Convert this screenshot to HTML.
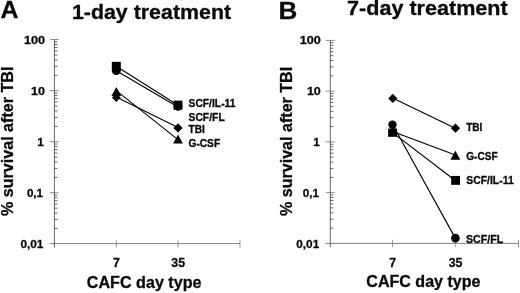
<!DOCTYPE html><html><head><meta charset="utf-8"><style>html,body{margin:0;padding:0;background:#fff;}svg{display:block;filter:grayscale(1)}text{font-family:"Liberation Sans",sans-serif;font-weight:bold;fill:#0a0a0a;stroke:#0a0a0a;stroke-width:0.3px;stroke-linejoin:round}</style></head><body>
<svg width="520" height="293" viewBox="0 0 520 293">
<rect width="520" height="293" fill="#fff"/>
<g fill="none">
<line x1="54.4" y1="39.6" x2="54.4" y2="247.45" stroke="#333" stroke-width="0.75"/>
<line x1="49.8" y1="243.6" x2="240.0" y2="243.6" stroke="#4a4a4a" stroke-width="0.7"/>
<line x1="116.3" y1="240.25" x2="116.3" y2="247.45" stroke="#666" stroke-width="0.65"/>
<line x1="178.0" y1="240.25" x2="178.0" y2="247.45" stroke="#666" stroke-width="0.65"/>
<line x1="240.0" y1="240.25" x2="240.0" y2="247.45" stroke="#666" stroke-width="0.65"/>
<line x1="50.0" y1="39.60" x2="58.8" y2="39.60" stroke="#666" stroke-width="0.75"/>
<line x1="50.0" y1="90.66" x2="58.8" y2="90.66" stroke="#666" stroke-width="0.75"/>
<line x1="50.0" y1="141.72" x2="58.8" y2="141.72" stroke="#666" stroke-width="0.75"/>
<line x1="50.0" y1="192.79" x2="58.8" y2="192.79" stroke="#666" stroke-width="0.75"/>
</g>
<g stroke="#333" stroke-width="0.75" fill="none">
<line x1="54.4" y1="75.29" x2="57.5" y2="75.29"/>
<line x1="54.4" y1="66.30" x2="57.5" y2="66.30"/>
<line x1="54.4" y1="59.92" x2="57.5" y2="59.92"/>
<line x1="54.4" y1="54.97" x2="57.5" y2="54.97"/>
<line x1="54.4" y1="50.93" x2="57.5" y2="50.93"/>
<line x1="54.4" y1="47.51" x2="57.5" y2="47.51"/>
<line x1="54.4" y1="44.55" x2="57.5" y2="44.55"/>
<line x1="54.4" y1="41.94" x2="57.5" y2="41.94"/>
<line x1="54.4" y1="126.35" x2="57.5" y2="126.35"/>
<line x1="54.4" y1="117.36" x2="57.5" y2="117.36"/>
<line x1="54.4" y1="110.98" x2="57.5" y2="110.98"/>
<line x1="54.4" y1="106.03" x2="57.5" y2="106.03"/>
<line x1="54.4" y1="101.99" x2="57.5" y2="101.99"/>
<line x1="54.4" y1="98.57" x2="57.5" y2="98.57"/>
<line x1="54.4" y1="95.61" x2="57.5" y2="95.61"/>
<line x1="54.4" y1="93.00" x2="57.5" y2="93.00"/>
<line x1="54.4" y1="177.42" x2="57.5" y2="177.42"/>
<line x1="54.4" y1="168.42" x2="57.5" y2="168.42"/>
<line x1="54.4" y1="162.04" x2="57.5" y2="162.04"/>
<line x1="54.4" y1="157.10" x2="57.5" y2="157.10"/>
<line x1="54.4" y1="153.05" x2="57.5" y2="153.05"/>
<line x1="54.4" y1="149.63" x2="57.5" y2="149.63"/>
<line x1="54.4" y1="146.67" x2="57.5" y2="146.67"/>
<line x1="54.4" y1="144.06" x2="57.5" y2="144.06"/>
<line x1="54.4" y1="228.48" x2="57.5" y2="228.48"/>
<line x1="54.4" y1="219.49" x2="57.5" y2="219.49"/>
<line x1="54.4" y1="213.11" x2="57.5" y2="213.11"/>
<line x1="54.4" y1="208.16" x2="57.5" y2="208.16"/>
<line x1="54.4" y1="204.12" x2="57.5" y2="204.12"/>
<line x1="54.4" y1="200.70" x2="57.5" y2="200.70"/>
<line x1="54.4" y1="197.74" x2="57.5" y2="197.74"/>
<line x1="54.4" y1="195.12" x2="57.5" y2="195.12"/>
</g>
<text x="45.0" y="43.70" font-size="11.8" text-anchor="end" textLength="21.1" lengthAdjust="spacingAndGlyphs">100</text>
<text x="44.9" y="94.76" font-size="11.8" text-anchor="end" textLength="13.9" lengthAdjust="spacingAndGlyphs">10</text>
<text x="43.9" y="145.82" font-size="11.8" text-anchor="end">1</text>
<text x="43.099999999999994" y="196.89" font-size="11.8" text-anchor="end" textLength="16.2" lengthAdjust="spacingAndGlyphs">0,1</text>
<text x="43.3" y="247.95" font-size="11.8" text-anchor="end" textLength="22.9" lengthAdjust="spacingAndGlyphs">0,01</text>
<line x1="116.30" y1="66.30" x2="178.00" y2="105.16" stroke="#000" stroke-width="1.1"/>
<line x1="116.30" y1="70.84" x2="178.00" y2="106.94" stroke="#000" stroke-width="1.1"/>
<line x1="116.30" y1="97.04" x2="178.00" y2="127.49" stroke="#000" stroke-width="1.1"/>
<line x1="116.30" y1="90.66" x2="178.00" y2="139.61" stroke="#000" stroke-width="1.1"/>
<rect x="111.80" y="61.80" width="9" height="9" fill="#000"/>
<circle cx="116.30" cy="70.64" r="4.4" fill="#000"/>
<path d="M111.40,96.07 L116.30,87.07 L121.20,96.07Z" fill="#000"/>
<path d="M111.90,97.54 L116.30,93.14 L120.70,97.54 L116.30,101.94Z" fill="#000"/>
<rect x="173.50" y="100.66" width="9" height="9" fill="#000"/>
<circle cx="178.00" cy="106.48" r="4.3" fill="#000"/>
<path d="M173.40,127.89 L178.00,123.29 L182.60,127.89 L178.00,132.49Z" fill="#000"/>
<path d="M173.10,143.51 L178.00,134.51 L182.90,143.51Z" fill="#000"/>
<text x="188.5" y="107.2" font-size="10.5" text-anchor="start" textLength="47.0" lengthAdjust="spacingAndGlyphs" stroke-width="0.45">SCF/IL-11</text>
<text x="188.5" y="121.4" font-size="10.5" text-anchor="start" textLength="36.2" lengthAdjust="spacingAndGlyphs" stroke-width="0.45">SCF/FL</text>
<text x="188.5" y="133.1" font-size="10.5" text-anchor="start" textLength="16.3" lengthAdjust="spacingAndGlyphs" stroke-width="0.45">TBI</text>
<text x="188.5" y="147.2" font-size="10.5" text-anchor="start" textLength="31.6" lengthAdjust="spacingAndGlyphs" stroke-width="0.45">G-CSF</text>
<text x="116.5" y="267.0" font-size="12.3" text-anchor="middle">7</text>
<text x="178.2" y="267.0" font-size="12.3" text-anchor="middle">35</text>
<text x="86.8" y="288.2" font-size="16" text-anchor="start" textLength="114.7" lengthAdjust="spacingAndGlyphs" stroke-width="0.5">CAFC day type</text>
<text x="0.4" y="18.3" font-size="24" text-anchor="start" textLength="18.0" lengthAdjust="spacingAndGlyphs" stroke-width="0.7">A</text>
<text x="71.9" y="19.2" font-size="21" text-anchor="start" textLength="159.2" lengthAdjust="spacingAndGlyphs" stroke-width="0.55">1-day treatment</text>
<text transform="translate(13.3,216.0) rotate(-90)" font-size="16" stroke-width="0.5" textLength="149.4" lengthAdjust="spacingAndGlyphs">% survival after TBI</text>
<g fill="none">
<line x1="330.3" y1="40.4" x2="330.3" y2="247.0" stroke="#333" stroke-width="0.75"/>
<line x1="325.7" y1="243.4" x2="518.5" y2="243.4" stroke="#4a4a4a" stroke-width="0.7"/>
<line x1="392.5" y1="239.8" x2="392.5" y2="247.0" stroke="#666" stroke-width="0.65"/>
<line x1="455.6" y1="239.8" x2="455.6" y2="247.0" stroke="#666" stroke-width="0.65"/>
<line x1="518.5" y1="239.8" x2="518.5" y2="247.0" stroke="#666" stroke-width="0.65"/>
<line x1="325.90000000000003" y1="40.40" x2="334.7" y2="40.40" stroke="#666" stroke-width="0.75"/>
<line x1="325.90000000000003" y1="91.15" x2="334.7" y2="91.15" stroke="#666" stroke-width="0.75"/>
<line x1="325.90000000000003" y1="141.90" x2="334.7" y2="141.90" stroke="#666" stroke-width="0.75"/>
<line x1="325.90000000000003" y1="192.65" x2="334.7" y2="192.65" stroke="#666" stroke-width="0.75"/>
</g>
<g stroke="#333" stroke-width="0.75" fill="none">
<line x1="330.3" y1="75.87" x2="333.40000000000003" y2="75.87"/>
<line x1="330.3" y1="66.94" x2="333.40000000000003" y2="66.94"/>
<line x1="330.3" y1="60.60" x2="333.40000000000003" y2="60.60"/>
<line x1="330.3" y1="55.68" x2="333.40000000000003" y2="55.68"/>
<line x1="330.3" y1="51.66" x2="333.40000000000003" y2="51.66"/>
<line x1="330.3" y1="48.26" x2="333.40000000000003" y2="48.26"/>
<line x1="330.3" y1="45.32" x2="333.40000000000003" y2="45.32"/>
<line x1="330.3" y1="42.72" x2="333.40000000000003" y2="42.72"/>
<line x1="330.3" y1="126.62" x2="333.40000000000003" y2="126.62"/>
<line x1="330.3" y1="117.69" x2="333.40000000000003" y2="117.69"/>
<line x1="330.3" y1="111.35" x2="333.40000000000003" y2="111.35"/>
<line x1="330.3" y1="106.43" x2="333.40000000000003" y2="106.43"/>
<line x1="330.3" y1="102.41" x2="333.40000000000003" y2="102.41"/>
<line x1="330.3" y1="99.01" x2="333.40000000000003" y2="99.01"/>
<line x1="330.3" y1="96.07" x2="333.40000000000003" y2="96.07"/>
<line x1="330.3" y1="93.47" x2="333.40000000000003" y2="93.47"/>
<line x1="330.3" y1="177.37" x2="333.40000000000003" y2="177.37"/>
<line x1="330.3" y1="168.44" x2="333.40000000000003" y2="168.44"/>
<line x1="330.3" y1="162.10" x2="333.40000000000003" y2="162.10"/>
<line x1="330.3" y1="157.18" x2="333.40000000000003" y2="157.18"/>
<line x1="330.3" y1="153.16" x2="333.40000000000003" y2="153.16"/>
<line x1="330.3" y1="149.76" x2="333.40000000000003" y2="149.76"/>
<line x1="330.3" y1="146.82" x2="333.40000000000003" y2="146.82"/>
<line x1="330.3" y1="144.22" x2="333.40000000000003" y2="144.22"/>
<line x1="330.3" y1="228.12" x2="333.40000000000003" y2="228.12"/>
<line x1="330.3" y1="219.19" x2="333.40000000000003" y2="219.19"/>
<line x1="330.3" y1="212.85" x2="333.40000000000003" y2="212.85"/>
<line x1="330.3" y1="207.93" x2="333.40000000000003" y2="207.93"/>
<line x1="330.3" y1="203.91" x2="333.40000000000003" y2="203.91"/>
<line x1="330.3" y1="200.51" x2="333.40000000000003" y2="200.51"/>
<line x1="330.3" y1="197.57" x2="333.40000000000003" y2="197.57"/>
<line x1="330.3" y1="194.97" x2="333.40000000000003" y2="194.97"/>
</g>
<text x="320.9" y="44.20" font-size="11.8" text-anchor="end" textLength="21.1" lengthAdjust="spacingAndGlyphs">100</text>
<text x="320.8" y="95.15" font-size="11.8" text-anchor="end" textLength="13.9" lengthAdjust="spacingAndGlyphs">10</text>
<text x="319.8" y="146.10" font-size="11.8" text-anchor="end">1</text>
<text x="319.0" y="197.05" font-size="11.8" text-anchor="end" textLength="16.2" lengthAdjust="spacingAndGlyphs">0,1</text>
<text x="319.2" y="248.00" font-size="11.8" text-anchor="end" textLength="22.9" lengthAdjust="spacingAndGlyphs">0,01</text>
<line x1="392.60" y1="98.09" x2="455.30" y2="128.34" stroke="#000" stroke-width="1.15"/>
<line x1="392.60" y1="124.42" x2="455.30" y2="238.13" stroke="#000" stroke-width="1.15"/>
<line x1="392.60" y1="132.60" x2="455.30" y2="180.57" stroke="#000" stroke-width="1.15"/>
<line x1="392.60" y1="131.54" x2="455.30" y2="155.08" stroke="#000" stroke-width="1.15"/>
<path d="M388.20,98.44 L392.80,93.84 L397.40,98.44 L392.80,103.04Z" fill="#000"/>
<circle cx="392.50" cy="124.82" r="4.2" fill="#000"/>
<path d="M389.10,134.94 L392.60,126.94 L396.10,134.94Z" fill="#000"/>
<rect x="388.15" y="128.60" width="8.9" height="8.2" fill="#000"/>
<path d="M450.90,128.14 L455.50,123.54 L460.10,128.14 L455.50,132.74Z" fill="#000"/>
<path d="M450.50,159.68 L455.40,150.68 L460.30,159.68Z" fill="#000"/>
<rect x="451.15" y="175.92" width="8.9" height="8.9" fill="#000"/>
<circle cx="455.40" cy="238.13" r="4.3" fill="#000"/>
<text x="466.2" y="131.2" font-size="10.5" text-anchor="start" textLength="16.2" lengthAdjust="spacingAndGlyphs" stroke-width="0.45">TBI</text>
<text x="466.2" y="160.0" font-size="10.5" text-anchor="start" textLength="31.4" lengthAdjust="spacingAndGlyphs" stroke-width="0.45">G-CSF</text>
<text x="466.3" y="184.3" font-size="10.5" text-anchor="start" textLength="47.4" lengthAdjust="spacingAndGlyphs" stroke-width="0.45">SCF/IL-11</text>
<text x="466.0" y="242.7" font-size="10.6" text-anchor="start" textLength="37.2" lengthAdjust="spacingAndGlyphs" stroke-width="0.45">SCF/FL</text>
<text x="392.6" y="267.0" font-size="12.3" text-anchor="middle">7</text>
<text x="455.5" y="267.0" font-size="12.3" text-anchor="middle">35</text>
<text x="366.3" y="287.3" font-size="16" text-anchor="start" textLength="114.2" lengthAdjust="spacingAndGlyphs" stroke-width="0.5">CAFC day type</text>
<text transform="translate(292.0,216.0) rotate(-90)" font-size="16" stroke-width="0.5" textLength="149.2" lengthAdjust="spacingAndGlyphs">% survival after TBI</text>
<text x="278.6" y="18.9" font-size="24.5" text-anchor="start" textLength="18.8" lengthAdjust="spacingAndGlyphs" stroke-width="0.7">B</text>
<text x="347.1" y="15.4" font-size="21" text-anchor="start" textLength="160.6" lengthAdjust="spacingAndGlyphs" stroke-width="0.55">7-day treatment</text>
</svg></body></html>
